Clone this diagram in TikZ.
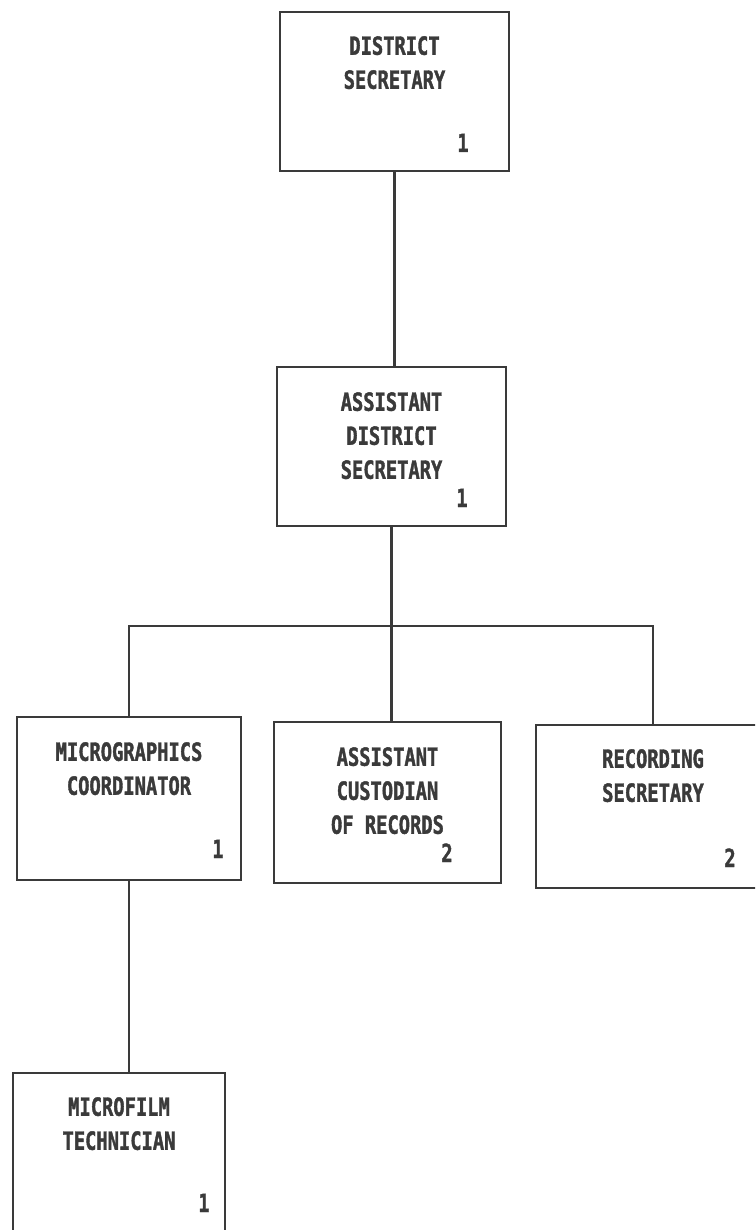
\documentclass[tikz,border=0pt]{standalone}
\usepackage{fontspec}
\newfontfamily\printfont[FakeStretch=0.75,FakeBold=1.5]{DejaVu Sans Mono Bold}
\usetikzlibrary{positioning}
\definecolor{ink}{HTML}{3A3A3A}

\begin{document}
\begin{tikzpicture}[x=1pt,y=-1pt,
  office/.style={rectangle,draw=ink,line width=2.8pt,inner sep=0pt,outer sep=0pt,anchor=north west},
  title/.style={inner sep=0pt,align=center,text=ink,font=\printfont\fontsize{25}{34}\selectfont},
  count/.style={inner sep=0pt,anchor=base,text=ink,font=\printfont\fontsize{25}{34}\selectfont},
  link/.style={draw=ink,line width=2.8pt}]
\useasboundingbox (0,0) rectangle (755,1230);
\clip (0,0) rectangle (755,1230);
% boxes
\node[office,minimum width=229pt,minimum height=159pt](ds) at (280,12){};
\node[office,minimum width=229pt,minimum height=159pt](ads) at (277,367){};
\node[office,minimum width=224pt,minimum height=163pt](mc) at (17,717){};
\node[office,minimum width=227pt,minimum height=161pt](acr) at (274,722){};
\node[office,minimum width=234pt,minimum height=163pt](rs) at (536,725){};
\node[office,minimum width=212pt,minimum height=160pt](mt) at (13,1073){};
% titles
\node[title,below=24pt of ds.north](dst){DISTRICT\\SECRETARY};
\node[title,below=25pt of ads.north](adst){ASSISTANT\\DISTRICT\\SECRETARY};
\node[title,below=25pt of mc.north](mct){MICROGRAPHICS\\COORDINATOR};
\node[title,below=25pt of acr.north](acrt){ASSISTANT\\CUSTODIAN\\OF RECORDS};
\node[title,below=24pt of rs.north](rst){RECORDING\\SECRETARY};
\node[title,below=24pt of mt.north](mtt){MICROFILM\\TECHNICIAN};
% counts
\node[count](dsn) at ([shift={(-46,-19)}]ds.south east){1};
\node[count](adsn) at ([shift={(-44,-19)}]ads.south east){1};
\node[count](mcn) at ([shift={(-23,-22)}]mc.south east){1};
\node[count](acrn) at ([shift={(-54,-21)}]acr.south east){2};
\node[count](rsn) at ([shift={(-40,-21)}]rs.south east){2};
\node[count](mtn) at ([shift={(-21,-21)}]mt.south east){1};
% lines
\coordinate (fork) at (ads.south |- 0,626);
\draw[link] (ds.south) -- (ds.south |- ads.north);
\draw[link] (ads.south) -- (fork);
\draw[link] (mc.north) |- (fork) -| (rs.north);
\draw[link] (fork) -- (fork |- acr.north);
\draw[link] (mc.south) -- (mc.south |- mt.north);
\end{tikzpicture}
\end{document}
